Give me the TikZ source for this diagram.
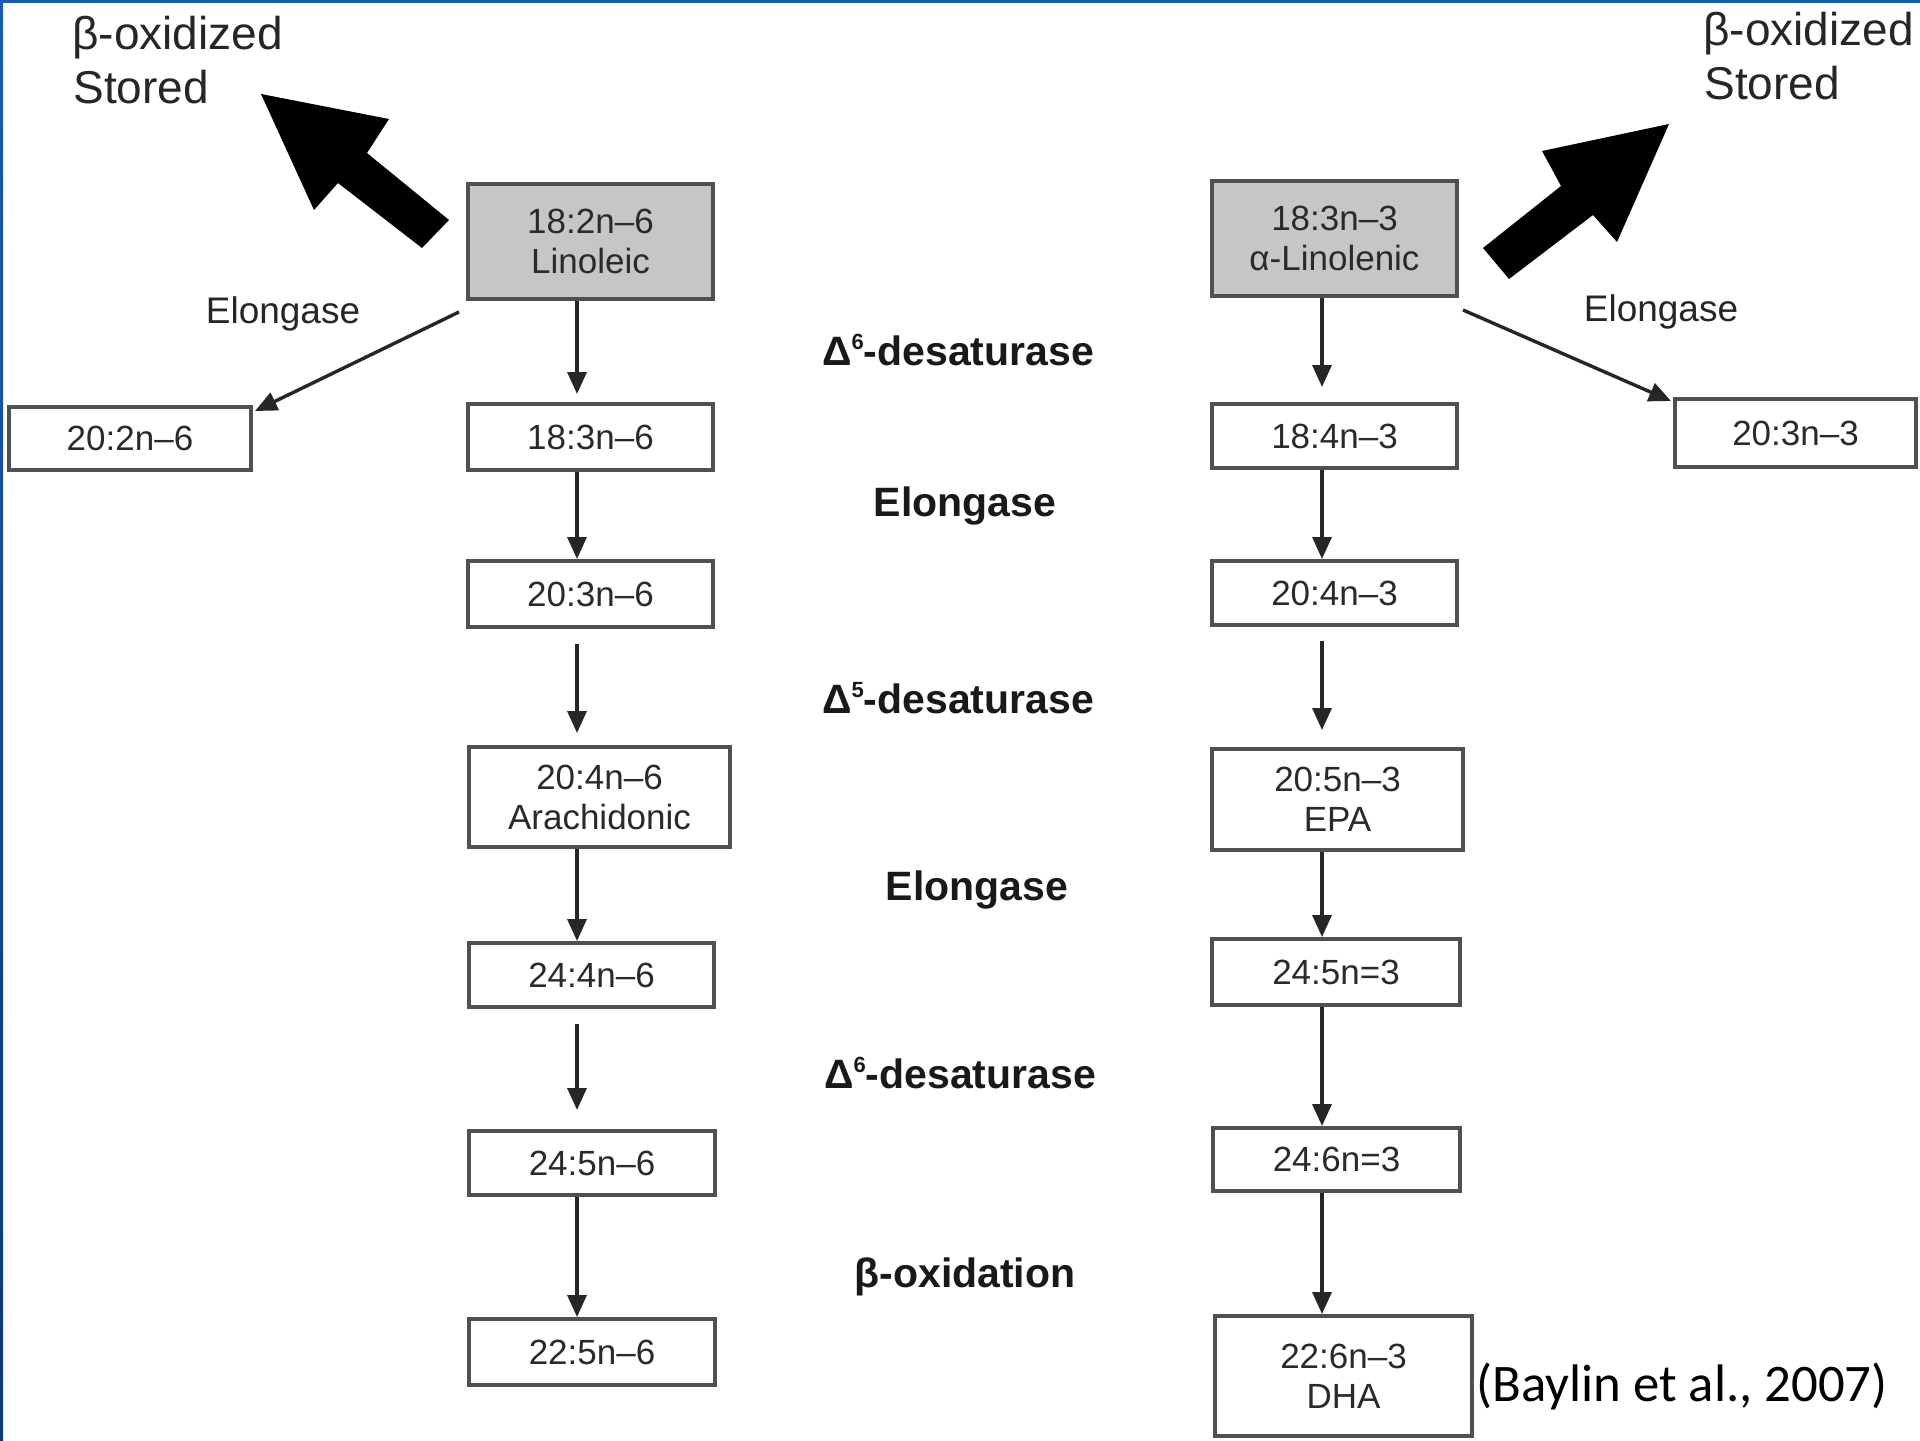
\documentclass[tikz,border=0pt]{standalone}
\usepackage{fontspec}
\setmainfont{Liberation Sans}
\newfontfamily\calib{Carlito}
\usetikzlibrary{arrows.meta}
\definecolor{boxgray}{HTML}{505050}
\definecolor{fillgray}{HTML}{C6C6C6}
\definecolor{txtgray}{HTML}{2A2A2A}
\definecolor{edgeblue}{HTML}{1C5BAB}
\definecolor{edgenavy}{HTML}{0B3A6E}
\newcommand{\supnum}[1]{\raisebox{0.75ex}{\fontsize{11}{12}\selectfont #1}}
\begin{document}
\begin{tikzpicture}[x=0.5pt,y=-0.5pt,
 box/.style={draw=boxgray, line width=2pt, fill=white, text=txtgray, align=center, inner sep=0pt, font=\fontsize{17.5}{20}\selectfont},
 src/.style={box, fill=fillgray},
 conn/.style={draw=black!85, line width=1.7pt, -{Triangle[length=11pt,width=9.5pt]}},
 enz/.style={font=\bfseries\fontsize{20.5}{24}\selectfont, text=black!90, inner sep=0pt},
 side/.style={font=\fontsize{18.5}{22}\selectfont, inner sep=0pt, text=black!85},
 fate/.style={font=\fontsize{23}{26}\selectfont, inner sep=0pt, anchor=base west, text=black!85},
 big/.style={fill=black}
]
\useasboundingbox (0,0) rectangle (1920,1440);
\fill[white] (0,0) rectangle (1920,1440);
% blue frame edges
\fill[edgeblue] (0,0) rectangle (1920,3);
\shade[top color=edgeblue, bottom color=edgenavy] (0,0) rectangle (3,1440);

% coordinates for the two vertical axes
\coordinate (colL) at (577,0);
\coordinate (colR) at (1322,0);

% ---------- left column (n-6) ----------
\node[src, minimum width=122.5pt, minimum height=57.5pt] (lin) at (590.5,241.5) {18:2n–6\\Linoleic};
\node[box, minimum width=121pt, minimum height=31.5pt] (n202) at (130,438.5) {20:2n–6};
\node[box, minimum width=122.5pt, minimum height=33pt] (n183) at (590.5,437) {18:3n–6};
\node[box, minimum width=122.5pt, minimum height=33pt] (n203) at (590.5,594) {20:3n–6};
\node[box, minimum width=130.5pt, minimum height=50pt] (n204) at (599.5,797) {20:4n–6\\Arachidonic};
\node[box, minimum width=122.5pt, minimum height=32pt] (n244) at (591.5,975) {24:4n–6};
\node[box, minimum width=123pt, minimum height=32pt] (n245) at (592,1163) {24:5n–6};
\node[box, minimum width=123pt, minimum height=33pt] (n225) at (592,1352) {22:5n–6};

% ---------- right column (n-3) ----------
\node[src, minimum width=122.5pt, minimum height=57.5pt] (ala) at (1334.5,238.5) {18:3n–3\\α-Linolenic};
\node[box, minimum width=122.5pt, minimum height=32pt] (n184) at (1334.5,436) {18:4n–3};
\node[box, minimum width=120.5pt, minimum height=34pt] (n203b) at (1795.5,433) {20:3n–3};
\node[box, minimum width=122.5pt, minimum height=32pt] (n204b) at (1334.5,593) {20:4n–3};
\node[box, minimum width=125.5pt, minimum height=50.5pt] (n205) at (1337.5,799.5) {20:5n–3\\EPA};
\node[box, minimum width=124pt, minimum height=33pt] (n245b) at (1336,972) {24:5n=3};
\node[box, minimum width=123.5pt, minimum height=31.5pt] (n246) at (1336.5,1159.5) {24:6n=3};
\node[box, minimum width=128.5pt, minimum height=60pt] (n226) at (1343.5,1376) {22:6n–3\\DHA};

% ---------- enzyme labels ----------
\node[enz] (e1) at (958,350) {Δ\supnum{6}-desaturase};
\node[enz] (e2) at (965,506) {Elongase};
\node[enz] (e3) at (958,698) {Δ\supnum{5}-desaturase};
\node[enz] (e4) at (977,890) {Elongase};
\node[enz] (e5) at (960,1073) {Δ\supnum{6}-desaturase};
\node[enz] (e6) at (965,1277) {β-oxidation};

\node[side] (elL) at (283,314) {Elongase};
\node[side] (elR) at (1661,312) {Elongase};

% ---------- fates ----------
\node[fate] (boxL) at (72,49) {β-oxidized};
\node[fate] (stL) at (73,103) {Stored};
\node[fate] (boxR) at (1703,45) {β-oxidized};
\node[fate] (stR) at (1704,99) {Stored};

% big arrows
\fill[big] (261,94) -- (314,210) -- (338,183) -- (422,248) -- (449,220) -- (367,153) -- (389,119) -- cycle;
\fill[big] (1669,124) -- (1542,151) -- (1561,186) -- (1483,248) -- (1509,279) -- (1593,215) -- (1617,242) -- cycle;

% ---------- connectors left ----------
\draw[conn, shorten >=4pt] (lin.south -| colL) -- (n183.north -| colL);
\draw[conn] (n183.south -| colL) -- (n203.north -| colL);
\draw[conn, shorten <=7.5pt, shorten >=6pt] (n203.south -| colL) -- (n204.north -| colL);
\draw[conn] (n204.south -| colL) -- (n244.north -| colL);
\draw[conn, shorten <=7.5pt, shorten >=9.5pt] (n244.south -| colL) -- (n245.north -| colL);
\draw[conn] (n245.south -| colL) -- (n225.north -| colL);
\draw[conn] ([shift={(-7,11)}]lin.south west) -- ([shift={(2,6)}]n202.north east);

% ---------- connectors right ----------
\draw[conn, shorten >=7.5pt] (ala.south -| colR) -- (n184.north -| colR);
\draw[conn] (n184.south -| colR) -- (n204b.north -| colR);
\draw[conn, shorten <=7pt, shorten >=8.5pt] (n204b.south -| colR) -- (n205.north -| colR);
\draw[conn] (n205.south -| colR) -- (n245b.north -| colR);
\draw[conn] (n245b.south -| colR) -- (n246.north -| colR);
\draw[conn] (n246.south -| colR) -- (n226.north -| colR);
\draw[conn] ([shift={(4,12)}]ala.south east) -- ([shift={(-2,4)}]n203b.north west);

% citation
\node[font=\calib\fontsize{26.4}{30}\selectfont, anchor=west, inner sep=0pt] (cite) at (1476,1386) {(Baylin et al., 2007)};
\end{tikzpicture}
\end{document}
